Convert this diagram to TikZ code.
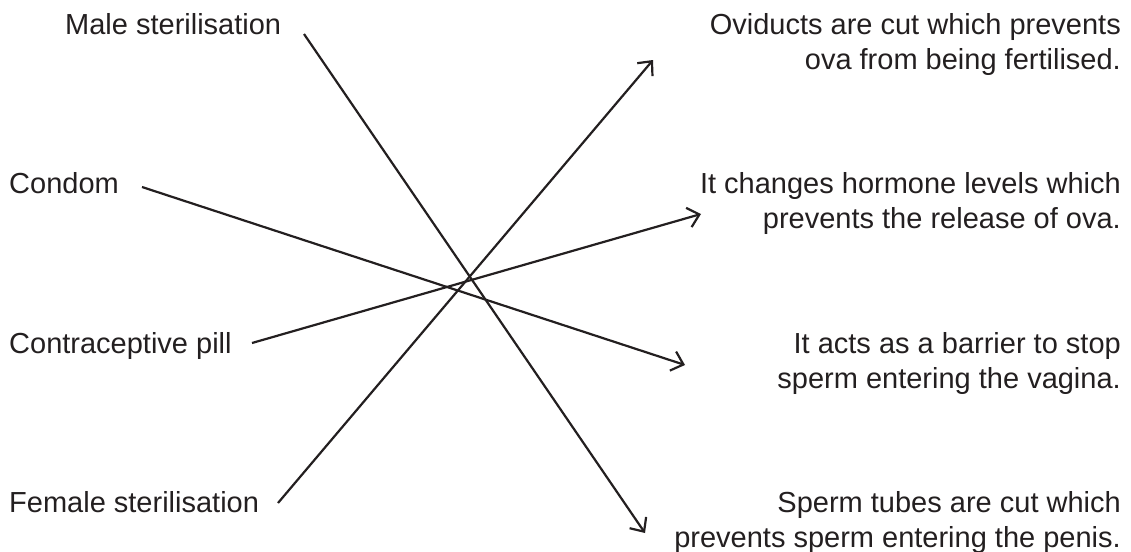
\documentclass[tikz,border=0pt]{standalone}
\usepackage{fontspec}
\setmainfont{Liberation Sans}
\usetikzlibrary{arrows.meta}
\definecolor{ink}{HTML}{231F20}
\begin{document}
\begin{tikzpicture}[x=1pt,y=-1pt,
  lbl/.style={inner sep=0pt, text=ink, font=\fontsize{29}{35}\selectfont},
  lft/.style={lbl, anchor=base west},
  rgt/.style={lbl, anchor=base east},
  link/.style={draw=ink, line width=2.2pt, -{Straight Barb[length=11pt,width=20pt]}}]
\useasboundingbox (0,0) rectangle (1131,551);
% left labels
\node[lft] (male) at (65,35) {Male sterilisation};
\node[lft] (condom) at (9,193) {Condom};
\node[lft] (pill) at (9,353) {Contraceptive pill};
\node[lft] (female) at (9,512) {Female sterilisation};
% right labels
\node[rgt] (ovi) at (1121,35) {\begin{tabular}[t]{@{}r@{}}Oviducts are cut which prevents\\ova from being fertilised.\end{tabular}};
\node[rgt] (horm) at (1121,193) {\begin{tabular}[t]{@{}r@{}}It changes hormone levels which\\prevents the release of ova.\end{tabular}};
\node[rgt] (barr) at (1121,353) {\begin{tabular}[t]{@{}r@{}}It acts as a barrier to stop\\sperm entering the vagina.\end{tabular}};
\node[rgt] (tube) at (1121,512) {\begin{tabular}[t]{@{}r@{}}Sperm tubes are cut which\\prevents sperm entering the penis.\end{tabular}};
% connector ends
\coordinate (maleout) at (304,34);
\coordinate (condomout) at (142,187);
\coordinate (pillout) at (252,343);
\coordinate (femaleout) at (278,503);
\coordinate (tubein) at (645,533);
\coordinate (barrin) at (685,365);
\coordinate (hormin) at (701,214);
\coordinate (oviin) at (653,60);
% connectors
\draw[link] (maleout) -- (tubein);
\draw[link] (condomout) -- (barrin);
\draw[link] (pillout) -- (hormin);
\draw[link] (femaleout) -- (oviin);
\end{tikzpicture}
\end{document}
